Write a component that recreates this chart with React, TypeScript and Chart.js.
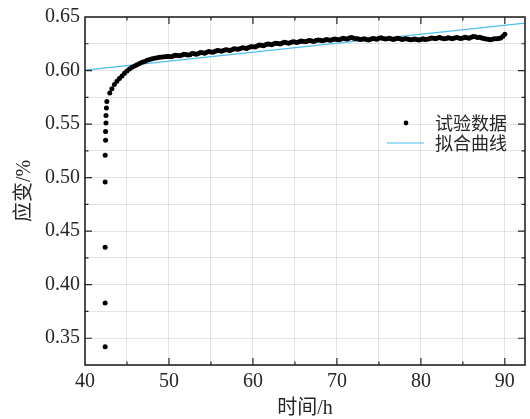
import React, { useEffect, useRef } from "react";
import { Chart, registerables } from "chart.js";

Chart.register(...registerables);

// 试验数据 (time in h, strain in %)
const timeH = [
  42.4, 42.4, 42.4, 42.4, 42.4, 42.45, 42.45, 42.5, 42.5, 42.55, 42.6,
  42.95, 43.2, 43.5, 43.8, 44.1, 44.4, 44.7, 45.0, 45.3, 45.6, 45.9, 46.2,
  46.5, 46.8, 47.1, 47.4, 47.7, 48.0, 48.3, 48.6, 48.9, 49.2, 49.5, 49.8,
  50.0, 50.5, 51.0, 51.5, 52.0, 52.5, 53.0, 53.5, 54.0, 54.5, 55.0, 55.5,
  56.0, 56.5, 57.0, 57.5, 58.0, 58.5, 59.0, 59.5, 60.0, 60.5, 61.0, 61.5,
  62.0, 62.5, 63.0, 63.5, 64.0, 64.5, 65.0, 65.5, 66.0, 66.5, 67.0, 67.5,
  68.0, 68.5, 69.0, 69.5, 70.0, 70.5, 71.0, 71.5, 72.0, 72.5, 73.0, 73.5,
  74.0, 74.5, 75.0, 75.5, 76.0, 76.5, 77.0, 77.5, 78.0, 78.5, 79.0, 79.5,
  80.0, 80.5, 81.0, 81.5, 82.0, 82.5, 83.0, 83.5, 84.0, 84.5, 85.0, 85.5,
  86.0, 86.5, 87.0, 87.5, 88.0, 88.5, 89.0, 89.5, 90.0,
];
const strain = [
  0.342, 0.383, 0.435, 0.496, 0.521, 0.535, 0.543, 0.551, 0.558, 0.565, 0.571,
  0.579, 0.583, 0.587, 0.59, 0.5925, 0.595, 0.5975, 0.5995, 0.6015, 0.603, 0.6042, 0.6053,
  0.6065, 0.6078, 0.6085, 0.6095, 0.6102, 0.611, 0.6115, 0.612, 0.6123, 0.6126, 0.6128, 0.613,
  0.6132, 0.6135, 0.614, 0.6143, 0.615, 0.6148, 0.6156, 0.616, 0.6165, 0.617, 0.6172, 0.618,
  0.6185, 0.6186, 0.6192, 0.6195, 0.62, 0.6205, 0.621, 0.6214, 0.6222, 0.623, 0.6236, 0.624,
  0.6245, 0.625, 0.6253, 0.6258, 0.626, 0.6263, 0.6266, 0.627, 0.6272, 0.6275, 0.6276, 0.628,
  0.6282, 0.6284, 0.6286, 0.629, 0.629, 0.6295, 0.6298, 0.6303, 0.6302, 0.6297, 0.6292, 0.629,
  0.6293, 0.6298, 0.6302, 0.63, 0.6296, 0.6295, 0.6297, 0.6296, 0.6294, 0.6292, 0.629, 0.629,
  0.6291, 0.629, 0.6298, 0.6302, 0.6304, 0.6302, 0.63, 0.6302, 0.6303, 0.6305, 0.6304, 0.6306,
  0.6312, 0.6316, 0.631, 0.63, 0.6292, 0.6292, 0.6296, 0.6305, 0.634,
];
// intermediate readings of the dense band
const timeHMid = [
  50.25, 50.75, 51.25, 51.75, 52.25, 52.75, 53.25, 53.75, 54.25, 54.75,
  55.25, 55.75, 56.25, 56.75, 57.25, 57.75, 58.25, 58.75, 59.25, 59.75,
  60.25, 60.75, 61.25, 61.75, 62.25, 62.75, 63.25, 63.75, 64.25, 64.75,
  65.25, 65.75, 66.25, 66.75, 67.25, 67.75, 68.25, 68.75, 69.25, 69.75,
  70.25, 70.75, 71.25, 71.75, 72.25, 72.75, 73.25, 73.75, 74.25, 74.75,
  75.25, 75.75, 76.25, 76.75, 77.25, 77.75, 78.25, 78.75, 79.25, 79.75,
  80.25, 80.75, 81.25, 81.75, 82.25, 82.75, 83.25, 83.75, 84.25, 84.75,
  85.25, 85.75, 86.25, 86.75, 87.25, 87.75, 88.25, 88.75, 89.25, 89.75,
];
const strainMid = [
  0.6128, 0.6142, 0.6137, 0.6151, 0.6145, 0.6158, 0.6153, 0.6168, 0.6162, 0.6177,
  0.617, 0.6188, 0.618, 0.6195, 0.6187, 0.6203, 0.6198, 0.6213, 0.6205, 0.6223,
  0.622, 0.6238, 0.6231, 0.6247, 0.6241, 0.6256, 0.6249, 0.6264, 0.6256, 0.627,
  0.6262, 0.6276, 0.6268, 0.6281, 0.6272, 0.6286, 0.6278, 0.629, 0.6283, 0.6295,
  0.6288, 0.6302, 0.6294, 0.6308, 0.6297, 0.629, 0.6297, 0.6286, 0.6299, 0.6293,
  0.6306, 0.6294, 0.6301, 0.629, 0.6301, 0.629, 0.6298, 0.6287, 0.6295, 0.6286,
  0.6296, 0.6293, 0.6305, 0.6297, 0.6309, 0.6297, 0.6306, 0.6297, 0.6308, 0.6299,
  0.631, 0.6302, 0.6318, 0.6308, 0.6304, 0.6295, 0.6287, 0.6297, 0.63, 0.6318,
];

// 拟合曲线
const fitTime = [40, 92.4];
const fitStrain = [0.6003, 0.6442];

const xMin = 40;
const xMax = 92.4;
const xStep = 5;
const xMajor = 10;
const yMin = 0.325;
const yMax = 0.65;
const yStep = 0.025;

const legendLabels = ["试验数据", "拟合曲线"];
const xTitle = "时间/h";
const yTitle = "应变/%";

const FONT = '"Liberation Serif", "Times New Roman", "Noto Sans CJK SC", serif';
const TEXT = "#262626";
const FIT_COLOR = "rgb(77,190,238)";

const isMajorX = (v: number) => Math.abs(Math.round(v / xMajor) * xMajor - v) < 1e-6;
const isMajorY = (v: number) => Math.abs(Math.round(v * 20) / 20 - v) < 1e-6;

const framePlugin = {
  id: "frameTicks",
  afterDatasetsDraw(chart: any) {
    const { ctx, chartArea: a, scales } = chart;
    ctx.save();
    ctx.strokeStyle = TEXT;
    ctx.lineWidth = 1.2;
    const xs = scales.x;
    const ys = scales.y;
    xs.ticks.forEach((t: any) => {
      const px = xs.getPixelForValue(t.value);
      if (px < a.left + 1 || px > a.right - 1) return;
      const len = isMajorX(t.value) ? 7 : 3.5;
      ctx.beginPath();
      ctx.moveTo(px, a.bottom);
      ctx.lineTo(px, a.bottom - len);
      ctx.moveTo(px, a.top);
      ctx.lineTo(px, a.top + len);
      ctx.stroke();
    });
    ys.ticks.forEach((t: any) => {
      const py = ys.getPixelForValue(t.value);
      if (py < a.top + 1 || py > a.bottom - 1) return;
      const len = isMajorY(t.value) ? 7 : 3.5;
      ctx.beginPath();
      ctx.moveTo(a.left, py);
      ctx.lineTo(a.left + len, py);
      ctx.moveTo(a.right, py);
      ctx.lineTo(a.right - len, py);
      ctx.stroke();
    });
    ctx.lineWidth = 1.6;
    ctx.strokeRect(a.left, a.top, a.right - a.left, a.bottom - a.top);
    ctx.restore();
  },
  afterDraw(chart: any) {
    const { ctx, chartArea: a } = chart;
    ctx.save();
    const row1 = a.top + 106;
    const row2 = a.top + 126;
    const textX = a.right - 90;
    ctx.fillStyle = "#000";
    ctx.beginPath();
    ctx.arc(a.right - 119, row1, 2.4, 0, Math.PI * 2);
    ctx.fill();
    ctx.strokeStyle = FIT_COLOR;
    ctx.lineWidth = 1.2;
    ctx.beginPath();
    ctx.moveTo(a.right - 138, row2);
    ctx.lineTo(a.right - 101, row2);
    ctx.stroke();
    ctx.fillStyle = TEXT;
    ctx.font = '18px "Noto Sans CJK SC", sans-serif';
    ctx.textBaseline = "middle";
    ctx.textAlign = "left";
    ctx.fillText(legendLabels[0], textX, row1);
    ctx.fillText(legendLabels[1], textX, row2);
    ctx.restore();
  },
};

export default function App() {
  const ref = useRef<HTMLCanvasElement | null>(null);
  useEffect(() => {
    document.body.style.margin = "0";
    const canvas = ref.current;
    if (!canvas) return;
    const allT = timeH.concat(timeHMid);
    const allS = strain.concat(strainMid);
    const scatterData = allT.map((t, i) => ({ x: t, y: allS[i] }));
    const fitData = fitTime.map((t, i) => ({ x: t, y: fitStrain[i] }));
    const chart = new Chart(canvas, {
      type: "scatter",
      data: {
        datasets: [
          {
            label: legendLabels[0],
            data: scatterData,
            backgroundColor: "#000",
            borderColor: "#000",
            pointRadius: 2.5,
            pointBorderWidth: 0,
            showLine: false,
          },
          {
            label: legendLabels[1],
            data: fitData,
            type: "line",
            borderColor: FIT_COLOR,
            borderWidth: 1.2,
            pointRadius: 0,
            fill: false,
            showLine: true,
          } as any,
        ],
      },
      options: {
        animation: false,
        responsive: true,
        maintainAspectRatio: false,
        layout: { padding: { top: 11, right: 5, left: 0, bottom: 0 } },
        plugins: {
          legend: { display: false },
          tooltip: { enabled: false },
        },
        scales: {
          x: {
            type: "linear",
            min: xMin,
            max: xMax,
            afterFit: (s: any) => {
              s.height = 54;
            },
            ticks: {
              stepSize: xStep,
              includeBounds: false,
              autoSkip: false,
              maxRotation: 0,
              padding: 5,
              color: TEXT,
              font: { family: FONT, size: 20 },
              callback: (v: any) => (isMajorX(Number(v)) ? String(Math.round(Number(v))) : ""),
            },
            grid: { color: "rgba(0,0,0,0.1)", drawTicks: false, lineWidth: 1 },
            border: { display: false },
            title: {
              display: true,
              text: xTitle,
              color: TEXT,
              font: { family: FONT, size: 20, lineHeight: 1 },
              padding: { top: 0, bottom: 0 },
            },
          },
          y: {
            type: "linear",
            min: yMin,
            max: yMax,
            afterFit: (s: any) => {
              s.width = 85;
            },
            ticks: {
              stepSize: yStep,
              includeBounds: false,
              autoSkip: false,
              padding: 5,
              color: TEXT,
              font: { family: FONT, size: 20 },
              callback: (v: any) => (isMajorY(Number(v)) ? Number(v).toFixed(2) : ""),
            },
            grid: { color: "rgba(0,0,0,0.1)", drawTicks: false, lineWidth: 1 },
            border: { display: false },
            title: {
              display: true,
              text: yTitle,
              color: TEXT,
              font: { family: FONT, size: 20, lineHeight: 1.2 },
              padding: { top: 13, bottom: 0 },
            },
          },
        },
      },
      plugins: [framePlugin],
    });
    return () => chart.destroy();
  }, []);
  return (
    <div style={{ width: 530, height: 419, position: "relative" }}>
      <canvas ref={ref} />
    </div>
  );
}
